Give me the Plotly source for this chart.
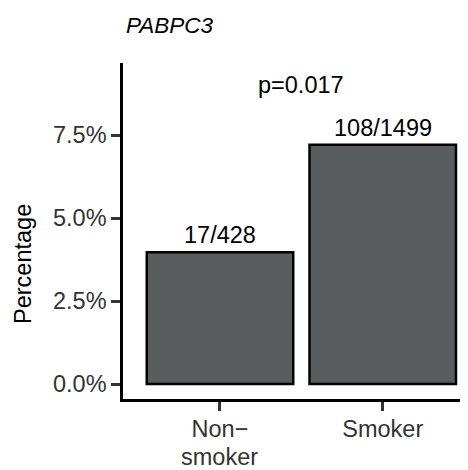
import plotly.graph_objects as go

category_lines = [["Non−", "smoker"], ["Smoker"]]
counts = [17, 108]
totals = [428, 1499]
percent = [c / t for c, t in zip(counts, totals)]
count_labels = [f"{c}/{t}" for c, t in zip(counts, totals)]
p_label = "p=0.017"
title_text = "PABPC3"
y_ticks = [0, 0.025, 0.05, 0.075]
y_ticktext = ["0.0%", "2.5%", "5.0%", "7.5%"]

FONT = "Liberation Sans, Arial, sans-serif"

# page body has an 8px margin, so the figure is 8px smaller than the window
W, H = 460, 462
ML, MR, MT, MB = 115, 0, 55, 71
PH = H - MT - MB  # 336
PW = W - ML - MR  # 345
FS = 23.5

fig = go.Figure()
fig.add_trace(go.Bar(
    x=[0, 1], y=percent, width=0.9,
    marker=dict(color="#595D5D", line=dict(color="black", width=2.5)),
    hoverinfo="skip",
))

annotations = []
for i, (v, lab) in enumerate(zip(percent, count_labels)):
    annotations.append(dict(x=i, y=v, xref="x", yref="y", text=lab, showarrow=False,
                            yanchor="bottom", yshift=2,
                            font=dict(family=FONT, size=FS, color="black")))
annotations.append(dict(x=0.5, y=0.09, xref="x", yref="y", text=p_label, showarrow=False,
                        yanchor="middle", font=dict(family=FONT, size=FS, color="black")))
annotations.append(dict(x=(124 - 123) / PW, y=(399 - 26) / PH, xref="paper", yref="paper",
                        text=f"<i>{title_text}</i>", showarrow=False, xanchor="left", yanchor="middle",
                        font=dict(family=FONT, size=22.5, color="black")))
annotations.append(dict(x=(23 - 123) / PW, y=(399 - 264) / PH, xref="paper", yref="paper",
                        text="Percentage", textangle=-90, showarrow=False,
                        xanchor="center", yanchor="middle",
                        font=dict(family=FONT, size=FS, color="black")))
# continuation lines of wrapped category labels (ggplot-like tight line height)
for i, lines in enumerate(category_lines):
    for k, line in enumerate(lines[1:], start=1):
        annotations.append(dict(x=i, y=(399 - 471) / PH, xref="x", yref="paper", text=line,
                                showarrow=False, yanchor="bottom", borderpad=0,
                                font=dict(family=FONT, size=FS, color="#333333")))

fig.update_layout(
    width=W, height=H,
    margin=dict(l=ML, r=MR, t=MT, b=MB, autoexpand=False),
    paper_bgcolor="white", plot_bgcolor="white",
    showlegend=False,
    annotations=annotations,
    font=dict(family=FONT, size=FS, color="#333333"),
    xaxis=dict(range=[-0.596, 1.524], tickmode="array", tickvals=[0, 1],
               ticktext=[lines[0] for lines in category_lines],
               showgrid=False, zeroline=False, showline=True, linecolor="black", linewidth=2.5,
               ticks="outside", ticklen=9, tickwidth=2.5, tickcolor="#333333",
               ticklabelstandoff=-2, automargin=False,
               tickfont=dict(family=FONT, size=FS, color="#333333"), fixedrange=True),
    yaxis=dict(range=[-0.00452, 0.0967], tickmode="array", tickvals=y_ticks, ticktext=y_ticktext,
               showgrid=False, zeroline=False, showline=True, linecolor="black", linewidth=2.5,
               ticks="outside", ticklen=9, tickwidth=2.5, tickcolor="#333333",
               automargin=False,
               tickfont=dict(family=FONT, size=FS, color="#333333"), fixedrange=True),
)

fig.write_html("out.html")
